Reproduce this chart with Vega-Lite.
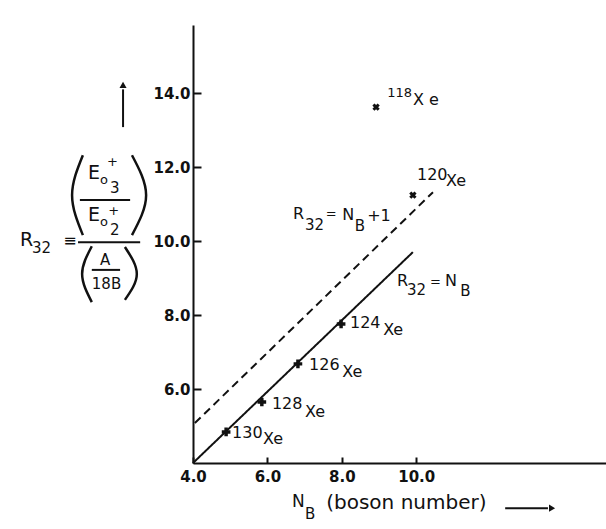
{
  "$schema": "https://vega.github.io/schema/vega-lite/v6.json",
  "width": 413,
  "height": 438,
  "autosize": "none",
  "padding": {"left": 193, "top": 25, "right": 0, "bottom": 66},
  "background": "#ffffff",
  "config": {"view": {"stroke": null}, "font": "DejaVu Sans", "text": {"font": "DejaVu Sans"}},
  "datasets": {
    "lines": [
      {"x": 4.0, "y": 4.0, "g": "solid", "o": 1},
      {"x": 9.91, "y": 9.7, "g": "solid", "o": 2},
      {"x": 4.05, "y": 5.08, "g": "dashed", "o": 1},
      {"x": 10.45, "y": 11.32, "g": "dashed", "o": 2}
    ],
    "pts": [
      {"x": 7.98, "y": 7.76, "m": "on"},
      {"x": 6.82, "y": 6.68, "m": "on"},
      {"x": 5.85, "y": 5.65, "m": "on"},
      {"x": 4.89, "y": 4.84, "m": "on"},
      {"x": 9.91, "y": 11.24, "m": "off"},
      {"x": 8.92, "y": 13.62, "m": "off"}
    ],
    "txt": [
      {"x": 8.22, "y": 7.78, "t": "124", "k": "a"},
      {"x": 9.11, "y": 7.59, "t": "Xe", "k": "a"},
      {"x": 7.12, "y": 6.65, "t": "126", "k": "a"},
      {"x": 8.01, "y": 6.46, "t": "Xe", "k": "a"},
      {"x": 6.12, "y": 5.59, "t": "128", "k": "a"},
      {"x": 7.01, "y": 5.38, "t": "Xe", "k": "a"},
      {"x": 5.05, "y": 4.81, "t": "130", "k": "a"},
      {"x": 5.88, "y": 4.65, "t": "Xe", "k": "a"},
      {"x": 10.02, "y": 11.78, "t": "120", "k": "a"},
      {"x": 10.8, "y": 11.62, "t": "Xe", "k": "a"},
      {"x": 9.22, "y": 14.0, "t": "118", "k": "b"},
      {"x": 9.91, "y": 13.81, "t": "X e", "k": "a"},
      {"x": 6.69, "y": 10.73, "t": "R", "k": "a"},
      {"x": 7.01, "y": 10.44, "t": "32", "k": "d"},
      {"x": 7.57, "y": 10.73, "t": "=", "k": "b"},
      {"x": 8.01, "y": 10.7, "t": "N", "k": "a"},
      {"x": 8.35, "y": 10.41, "t": "B", "k": "d"},
      {"x": 8.68, "y": 10.68, "t": "+1", "k": "a"},
      {"x": 9.48, "y": 8.92, "t": "R", "k": "a"},
      {"x": 9.75, "y": 8.68, "t": "32", "k": "d"},
      {"x": 10.37, "y": 8.9, "t": "=", "k": "b"},
      {"x": 10.77, "y": 8.92, "t": "N", "k": "a"},
      {"x": 11.18, "y": 8.65, "t": "B", "k": "d"},
      {"x": -0.65, "y": 10.03, "t": "R", "k": "c"},
      {"x": -0.33, "y": 9.81, "t": "32", "k": "d"},
      {"x": 0.51, "y": 10.0, "t": "≡", "k": "a"},
      {"x": 1.18, "y": 11.84, "t": "E", "k": "c"},
      {"x": 1.5, "y": 11.65, "t": "o", "k": "b"},
      {"x": 1.69, "y": 12.14, "t": "+", "k": "b"},
      {"x": 1.77, "y": 11.43, "t": "3", "k": "d"},
      {"x": 1.18, "y": 10.7, "t": "E", "k": "c"},
      {"x": 1.5, "y": 10.51, "t": "o", "k": "b"},
      {"x": 1.72, "y": 10.81, "t": "+", "k": "b"},
      {"x": 1.77, "y": 10.3, "t": "2", "k": "d"},
      {"x": 1.5, "y": 9.49, "t": "A", "k": "d"},
      {"x": 1.28, "y": 8.84, "t": "18B", "k": "d"},
      {"x": 6.66, "y": 2.95, "t": "N", "k": "f"},
      {"x": 7.01, "y": 2.62, "t": "B", "k": "d"},
      {"x": 7.58, "y": 2.92, "t": "(boson  number)", "k": "e"}
    ],
    "bars": [
      {"x": 0.91, "x2": 2.58, "y": 9.97, "y2": 9.97},
      {"x": 0.96, "x2": 2.31, "y": 11.11, "y2": 11.11},
      {"x": 1.28, "x2": 2.04, "y": 9.22, "y2": 9.22},
      {"x": 2.12, "x2": 2.12, "y": 13.08, "y2": 14.1},
      {"x": 12.39, "x2": 13.54, "y": 2.78, "y2": 2.78}
    ],
    "heads": [
      {"x": 2.12, "y": 14.22, "d": "up"},
      {"x": 13.65, "y": 2.78, "d": "right"}
    ],
    "parens": [
      {"x": 1.04, "y": 12.32, "g": "p1", "o": 1},
      {"x": 0.75, "y": 11.24, "g": "p1", "o": 2},
      {"x": 1.04, "y": 10.16, "g": "p1", "o": 3},
      {"x": 2.36, "y": 12.32, "g": "p2", "o": 1},
      {"x": 2.74, "y": 11.24, "g": "p2", "o": 2},
      {"x": 2.36, "y": 10.16, "g": "p2", "o": 3},
      {"x": 1.28, "y": 9.86, "g": "p3", "o": 1},
      {"x": 1.02, "y": 9.11, "g": "p3", "o": 2},
      {"x": 1.28, "y": 8.35, "g": "p3", "o": 3},
      {"x": 2.17, "y": 9.84, "g": "p4", "o": 1},
      {"x": 2.49, "y": 9.11, "g": "p4", "o": 2},
      {"x": 2.17, "y": 8.41, "g": "p4", "o": 3}
    ]
  },
  "encoding": {
    "x": {"field": "x", "type": "quantitative", "scale": {"domain": [4, 15.1], "nice": false, "zero": false},
      "axis": {"values": [4, 6, 8, 10], "format": ".1f", "title": null, "grid": false, "labelFlush": false,
        "domainColor": "#111111", "domainWidth": 2, "tickColor": "#111111", "tickWidth": 2, "tickSize": -6,
        "labelFontSize": 15, "labelFontWeight": "bold", "labelColor": "#111111", "labelPadding": 12, "labelFont": "DejaVu Sans"}},
    "y": {"field": "y", "type": "quantitative", "scale": {"domain": [4, 15.84], "nice": false, "zero": false},
      "axis": {"values": [6, 8, 10, 12, 14], "format": ".1f", "title": null, "grid": false,
        "domainColor": "#111111", "domainWidth": 2, "tickColor": "#111111", "tickWidth": 2, "tickSize": -8,
        "labelFontSize": 15, "labelFontWeight": "bold", "labelColor": "#111111", "labelPadding": 11, "labelFont": "DejaVu Sans"}}
  },
  "layer": [
    {
      "data": {"name": "lines"},
      "mark": {"type": "line", "color": "#111111", "strokeWidth": 2, "clip": false},
      "encoding": {
        "detail": {"field": "g"},
        "order": {"field": "o"},
        "strokeDash": {"field": "g", "type": "nominal", "scale": {"domain": ["solid", "dashed"], "range": [[1, 0], [8, 5]]}, "legend": null}
      }
    },
    {
      "data": {"name": "pts"},
      "transform": [{"filter": "datum.m === 'on'"}],
      "mark": {"type": "point", "shape": "cross", "filled": true, "size": 75, "color": "#111111", "opacity": 1, "clip": false},
      "encoding": {}
    },
    {
      "data": {"name": "pts"},
      "transform": [{"filter": "datum.m === 'off'"}],
      "mark": {"type": "point", "shape": "cross", "angle": 45, "filled": true, "size": 55, "color": "#111111", "opacity": 1, "clip": false},
      "encoding": {}
    },
    {
      "data": {"name": "txt"},
      "transform": [{"filter": "datum.k === 'a'"}],
      "mark": {"type": "text", "align": "left", "baseline": "middle", "color": "#111111", "font": "DejaVu Sans", "fontSize": 16, "clip": false},
      "encoding": {"text": {"field": "t"}}
    },
    {
      "data": {"name": "txt"},
      "transform": [{"filter": "datum.k === 'b'"}],
      "mark": {"type": "text", "align": "left", "baseline": "middle", "color": "#111111", "font": "DejaVu Sans", "fontSize": 13, "clip": false},
      "encoding": {"text": {"field": "t"}}
    },
    {
      "data": {"name": "txt"},
      "transform": [{"filter": "datum.k === 'c'"}],
      "mark": {"type": "text", "align": "left", "baseline": "middle", "color": "#111111", "font": "DejaVu Sans", "fontSize": 19, "clip": false},
      "encoding": {"text": {"field": "t"}}
    },
    {
      "data": {"name": "txt"},
      "transform": [{"filter": "datum.k === 'd'"}],
      "mark": {"type": "text", "align": "left", "baseline": "middle", "color": "#111111", "font": "DejaVu Sans", "fontSize": 15, "clip": false},
      "encoding": {"text": {"field": "t"}}
    },
    {
      "data": {"name": "txt"},
      "transform": [{"filter": "datum.k === 'e'"}],
      "mark": {"type": "text", "align": "left", "baseline": "middle", "color": "#111111", "font": "DejaVu Sans", "fontSize": 20, "clip": false},
      "encoding": {"text": {"field": "t"}}
    },
    {
      "data": {"name": "txt"},
      "transform": [{"filter": "datum.k === 'f'"}],
      "mark": {"type": "text", "align": "left", "baseline": "middle", "color": "#111111", "font": "DejaVu Sans", "fontSize": 17, "clip": false},
      "encoding": {"text": {"field": "t"}}
    },
    {
      "data": {"name": "bars"},
      "mark": {"type": "rule", "color": "#111111", "strokeWidth": 2, "clip": false},
      "encoding": {"x2": {"field": "x2"}, "y2": {"field": "y2"}}
    },
    {
      "data": {"name": "heads"},
      "mark": {"type": "point", "filled": true, "size": 50, "color": "#111111", "opacity": 1, "clip": false},
      "encoding": {
        "shape": {"field": "d", "type": "nominal", "scale": {"domain": ["up", "right"], "range": ["triangle-up", "triangle-right"]}, "legend": null}
      }
    },
    {
      "data": {"name": "parens"},
      "mark": {"type": "line", "color": "#111111", "strokeWidth": 2.5, "interpolate": "natural", "clip": false},
      "encoding": {"detail": {"field": "g"}, "order": {"field": "o"}}
    }
  ]
}
